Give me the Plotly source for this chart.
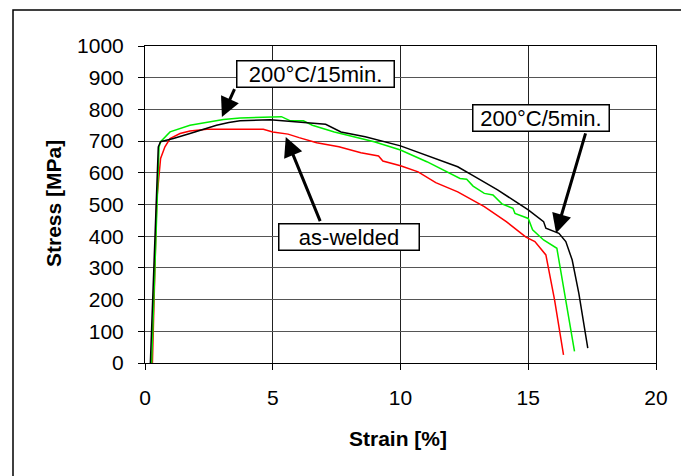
import plotly.graph_objects as go

# Black curve: 200°C/5min.
strain_5min = [0.21, 0.38, 0.52, 0.61, 1.11, 1.76, 2.15, 2.8, 3.28, 3.72, 4.9, 6.38, 7.07, 7.67, 8.62,
               10.0, 11.55, 12.24, 12.84, 13.8, 15.0, 15.6, 15.69, 16.2, 16.47, 16.72, 16.98, 17.33]
stress_5min = [0, 350, 682, 698, 708, 724, 734, 750, 759, 764, 767, 759, 753, 729, 714,
               685, 638, 619, 591, 546, 483, 446, 425, 409, 383, 325, 220, 47]

# Green curve: 200°C/15min.
strain_15min = [0.26, 0.34, 0.47, 0.55, 0.61, 0.98, 1.76, 2.59, 3.07, 3.72, 4.9, 5.34, 5.69, 6.2, 6.55,
                7.41, 8.97, 10.0, 11.03, 11.9, 12.33, 12.59, 12.84, 13.28, 13.62, 13.97, 14.4, 14.48,
                15.0, 15.17, 15.6, 16.12, 16.47, 16.81]
stress_15min = [0, 199, 514, 682, 698, 729, 750, 761, 768, 773, 776, 777, 764, 764, 750,
                729, 698, 672, 635, 598, 582, 580, 558, 535, 530, 502, 488, 472,
                456, 420, 388, 362, 199, 37]

# Red curve: as-welded
strain_aw = [0.29, 0.46, 0.61, 0.78, 0.98, 1.37, 1.76, 2.42, 3.62, 4.63, 5.0, 5.6, 6.03, 6.72, 7.59,
             8.45, 9.14, 9.31, 10.0, 10.69, 11.38, 12.24, 13.28, 14.14, 14.91, 15.26, 15.69, 16.03, 16.38]
stress_aw = [0, 514, 645, 682, 708, 724, 732, 737, 737, 737, 729, 722, 711, 695, 682,
             663, 653, 637, 622, 603, 569, 540, 493, 446, 397, 383, 341, 199, 26]

x_ticks = [0, 5, 10, 15, 20]
y_ticks = [0, 100, 200, 300, 400, 500, 600, 700, 800, 900, 1000]

FONT = "Arial, Liberation Sans, sans-serif"

fig = go.Figure()
fig.add_trace(go.Scatter(x=strain_aw, y=stress_aw, mode="lines", line=dict(color="#ff0000", width=1.5), name="as-welded"))
fig.add_trace(go.Scatter(x=strain_15min, y=stress_15min, mode="lines", line=dict(color="#00ee00", width=1.5), name="200°C/15min."))
fig.add_trace(go.Scatter(x=strain_5min, y=stress_5min, mode="lines", line=dict(color="#000000", width=1.5), name="200°C/5min."))

OFF = 8  # page body margin
W, H = 689 - OFF, 476 - OFF
L, R, T, B = 145 - OFF, 33, 46 - OFF, 113
pw, ph = W - L - R, H - T - B

def px_x(p):
    return (p - OFF - L) / pw

def px_y(p):
    return (H - B - (p - OFF)) / ph

fig.update_layout(
    width=W, height=H,
    margin=dict(l=L, r=R, t=T, b=B),
    paper_bgcolor="white", plot_bgcolor="white",
    showlegend=False,
    font=dict(family=FONT, color="black"),
)
fig.update_xaxes(range=[0, 20], tickvals=x_ticks, ticks="outside", ticklen=6, tickcolor="black",
                 showline=True, linecolor="black", linewidth=1, mirror=True,
                 showgrid=True, gridcolor="#222222", gridwidth=1, zeroline=False,
                 tickfont=dict(size=21, family=FONT), ticklabelstandoff=10)
fig.update_yaxes(range=[0, 1000], tickvals=y_ticks, ticks="outside", ticklen=6, tickcolor="black",
                 showline=True, linecolor="black", linewidth=1, mirror=True,
                 showgrid=True, gridcolor="#555555", gridwidth=1, zeroline=False,
                 tickfont=dict(size=21, family=FONT), ticklabelstandoff=10)

# Outer frame
fig.add_shape(type="rect", xref="paper", yref="paper",
              x0=px_x(13), x1=px_x(687), y0=px_y(490), y1=px_y(10),
              line=dict(color="black", width=1.5), fillcolor="rgba(0,0,0,0)", layer="below")

# Axis titles
fig.add_annotation(text="<b>Stress [MPa]</b>", xref="paper", yref="paper", x=px_x(53), y=px_y(204),
                   xanchor="center", yanchor="middle",
                   textangle=-90, showarrow=False, font=dict(size=21, family=FONT))
fig.add_annotation(text="<b>Strain [%]</b>", xref="paper", yref="paper", x=px_x(398), y=px_y(438),
                   xanchor="center", yanchor="middle",
                   showarrow=False, font=dict(size=21, family=FONT))

# Arrows
arrows = [((3.53, 869), (3.01, 776)), ((17.26, 729), (16.09, 409)), ((6.88, 443), (5.51, 713))]
for (tx, ty), (hx, hy) in arrows:
    fig.add_annotation(x=hx, y=hy, ax=tx, ay=ty, xref="x", yref="y", axref="x", ayref="y",
                       text="", showarrow=True, arrowhead=2, arrowsize=1.3, arrowwidth=3,
                       arrowcolor="black")

# Label boxes
labels = [("200°C/15min.", 315, 73.5, 156), ("200°C/5min.", 541, 118, 135), ("as-welded", 348.5, 236.5, 139)]
for txt, cx, cy, w in labels:
    fig.add_annotation(text=txt, xref="paper", yref="paper", x=px_x(cx), y=px_y(cy),
                       xanchor="center", yanchor="middle",
                       showarrow=False, font=dict(size=22, family=FONT), bgcolor="white",
                       bordercolor="black", borderwidth=1.5, borderpad=0, width=w, height=25)

fig.write_html("out.html")
